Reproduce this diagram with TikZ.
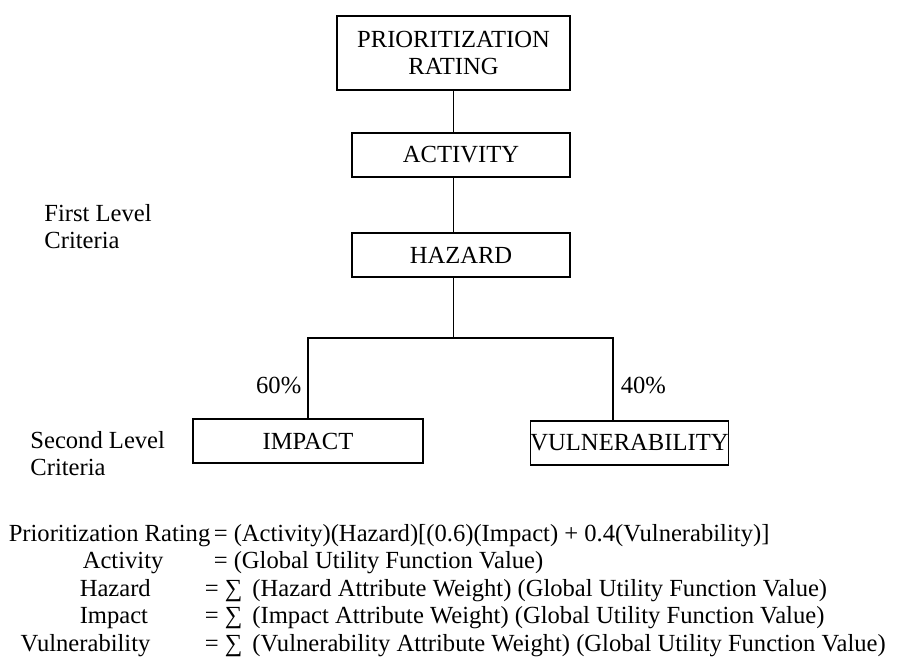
\documentclass[tikz,border=0pt]{standalone}
\usepackage{fontspec}
\setmainfont{Liberation Serif}
\usetikzlibrary{positioning}

\begin{document}
\begin{tikzpicture}[
  x=0.5pt,y=-0.5pt,
  font=\fontsize{12.3}{13.5}\selectfont,
  line width=0.75pt,
  crit/.style={draw,minimum height=22pt,inner sep=0pt,align=center},
  side/.style={anchor=base west,align=left},
  term/.style={anchor=base west,inner sep=0pt},
  pct/.style={inner sep=0pt}
]
\useasboundingbox (0,0) rectangle (898,662);

% hierarchy
\node[crit,minimum width=116.5pt,minimum height=37pt] (prio) at (453.5,53) {PRIORITIZATION\\RATING};
\node[crit,minimum width=109pt] (act) at (461,155) {ACTIVITY};
\node[crit,minimum width=109pt] (haz) at (461,255) {HAZARD};
\node[crit,minimum width=115pt] (imp) at (308,441) {IMPACT};
\node[crit,minimum width=98.5pt] (vul) at (629.5,443) {VULNERABILITY};

\coordinate (bar) at (453.5,338);
\coordinate (jr) at (613,338);
\draw (prio.south) -- (prio.south |- act.north)
  (prio.south |- act.south) -- (prio.south |- haz.north)
  (prio.south |- haz.south) -- (bar);
\draw (imp.north) -- (imp.north |- bar) -- (jr) -- (jr |- vul.north);

\node[pct,anchor=base east] (p60) at (302,393) {60\%};
\node[pct,anchor=base west] (p40) at (620,393) {40\%};

% level captions
\node[side] (first) at (37,222) {First Level};
\node[side] (first2) at (37,249) {Criteria};
\node[side] (second) at (23,448) {Second Level};
\node[side] (second2) at (23,475) {Criteria};

% equations
\node[term] (l1) at (8,541) {Prioritization Rating};
\node[term] (r1) at (213,541) {= (Activity)(Hazard)[(0.6)(Impact) + 0.4(Vulnerability)]};
\node[term] (l2) at (82,568) {Activity};
\node[term] (r2) at (213,568) {= (Global Utility Function Value)};
\node[term] (l3) at (79,596) {Hazard};
\node[term] (r3) at (204,596) {= ∑\hspace{2pt} (Hazard Attribute Weight) (Global Utility Function Value)};
\node[term] (l4) at (79,623) {Impact};
\node[term] (r4) at (204,623) {= ∑\hspace{2pt} (Impact Attribute Weight) (Global Utility Function Value)};
\node[term] (l5) at (20,651) {Vulnerability};
\node[term] (r5) at (204,651) {= ∑\hspace{2pt} (Vulnerability Attribute Weight) (Global Utility Function Value)};
\end{tikzpicture}
\end{document}
